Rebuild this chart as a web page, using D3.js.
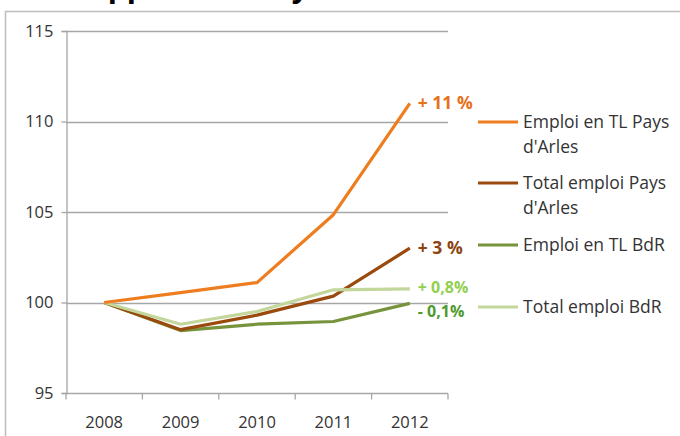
<!DOCTYPE html>
<html>
<head>
<meta charset="utf-8">
<style>
  body { margin: 0; background: #fff; }
  svg text { font-family: "Open Sans", sans-serif; }
</style>
</head>
<body>
<script src="https://cdn.jsdelivr.net/npm/d3@7"></script>
<script>

var years = ["2008", "2009", "2010", "2011", "2012"];
var seriesNames = ["Emploi en TL Pays d'Arles", "Total emploi Pays d'Arles", "Emploi en TL BdR", "Total emploi BdR"];
var tlArles = [100, 100.55, 101.1, 104.85, 111.0];
var totalArles = [100, 98.5, 99.3, 100.35, 103.0];
var tlBdr = [100, 98.45, 98.8, 98.95, 99.95];
var totalBdr = [100, 98.8, 99.5, 100.7, 100.75];
var endLabels = ["+ 11 %", "+ 3 %", "- 0,1%", "+ 0,8%"];
var yTicks = [95, 100, 105, 110, 115];

var colors = ["#ed7d1e", "#9a4a0c", "#77933c", "#c3d69b"];
var labelColors = ["#e8711a", "#8c4310", "#4f9a2c", "#92cf50"];
var legendLines = [["Emploi en TL Pays", "d'Arles"], ["Total emploi Pays", "d'Arles"], ["Emploi en TL BdR"], ["Total emploi BdR"]];

var width = 680, height = 436;
var margin = {top: 31, left: 66, right: 232, bottom: 43};

var svg = d3.select("body").append("svg")
    .attr("width", width)
    .attr("height", height);

// title, cropped by the top edge (only descenders show)
svg.append("text")
    .attr("x", 87)
    .attr("y", -3)
    .attr("font-size", 30)
    .attr("font-weight", "bold")
    .attr("fill", "#000")
    .text("Approche : Pays");

// outer frame
svg.append("rect")
    .attr("x", 5.5).attr("y", 11.5)
    .attr("width", 700).attr("height", 460)
    .attr("fill", "none")
    .attr("stroke", "#bdbdbd")
    .attr("stroke-width", 1.5);

var x = d3.scaleBand().domain(years).range([margin.left, width - margin.right]);
var y = d3.scaleLinear().domain([95, 115]).range([height - margin.bottom, margin.top]);

// gridlines
svg.append("g").selectAll("line")
    .data(yTicks.slice(1))
    .enter().append("line")
    .attr("x1", margin.left).attr("x2", width - margin.right)
    .attr("y1", function(d) { return Math.round(y(d)) + 0.5; })
    .attr("y2", function(d) { return Math.round(y(d)) + 0.5; })
    .attr("stroke", "#a6a6a6")
    .attr("stroke-width", 1.3);

// y axis
var yAxis = svg.append("g")
    .attr("transform", "translate(" + (margin.left + 0.5) + ",0)")
    .call(d3.axisLeft(y).tickValues(yTicks).tickSize(5).tickPadding(8).tickFormat(d3.format("d")));
yAxis.selectAll("line, path").attr("stroke", "#a6a6a6").attr("stroke-width", 1.3);
yAxis.selectAll("text").attr("font-size", 16.5).attr("fill", "#333").style("font-family", "Open Sans, sans-serif");

// x axis, ticks between categories
var xAxisG = svg.append("g")
    .attr("transform", "translate(0," + (Math.round(y(95)) + 0.5) + ")");
xAxisG.append("line")
    .attr("x1", margin.left).attr("x2", width - margin.right)
    .attr("stroke", "#a6a6a6").attr("stroke-width", 1.3);
xAxisG.selectAll(".tk")
    .data(years.concat(["end"]))
    .enter().append("line")
    .attr("x1", function(d, i) { return margin.left + i * x.step(); })
    .attr("x2", function(d, i) { return margin.left + i * x.step(); })
    .attr("y1", 0).attr("y2", 6)
    .attr("stroke", "#a6a6a6").attr("stroke-width", 1.3);
xAxisG.selectAll(".lbl")
    .data(years)
    .enter().append("text")
    .attr("x", function(d) { return x(d) + x.bandwidth() / 2; })
    .attr("y", 34)
    .attr("text-anchor", "middle")
    .attr("font-size", 16.5)
    .attr("fill", "#333")
    .text(function(d) { return d; });

// lines
var allSeries = [tlArles, totalArles, tlBdr, totalBdr];
var line = d3.line()
    .x(function(d, i) { return x(years[i]) + x.bandwidth() / 2; })
    .y(function(d) { return y(d); });

[2, 1, 3, 0].forEach(function(k) {
  svg.append("path")
      .datum(allSeries[k])
      .attr("d", line)
      .attr("fill", "none")
      .attr("stroke", colors[k])
      .attr("stroke-width", 3.2)
      .attr("stroke-linejoin", "round");
});

// end labels
var labelDy = [6, 6, 14, 4];
allSeries.forEach(function(s, k) {
  svg.append("text")
      .attr("x", x(years[4]) + x.bandwidth() / 2 + 8)
      .attr("y", y(s[4]) + labelDy[k])
      .attr("font-size", k === 0 || k === 1 ? 17.5 : 16)
      .attr("font-weight", "bold")
      .attr("fill", labelColors[k])
      .text(endLabels[k]);
});

// legend
var legendY = [122, 183, 245, 307];
var legend = svg.append("g").selectAll("g")
    .data(seriesNames)
    .enter().append("g")
    .attr("transform", function(d, i) { return "translate(478," + legendY[i] + ")"; });

legend.append("line")
    .attr("x1", 0).attr("x2", 40)
    .attr("stroke", function(d, i) { return colors[i]; })
    .attr("stroke-width", 3.2);

legend.each(function(d, i) {
  var t = d3.select(this).append("text")
      .attr("x", 45)
      .attr("y", 6)
      .attr("font-size", 17.5)
      .attr("fill", "#333");
  legendLines[i].forEach(function(s, j) {
    t.append("tspan").attr("x", 45).attr("dy", j === 0 ? 0 : 25).text(s);
  });
});

</script>
</body>
</html>
